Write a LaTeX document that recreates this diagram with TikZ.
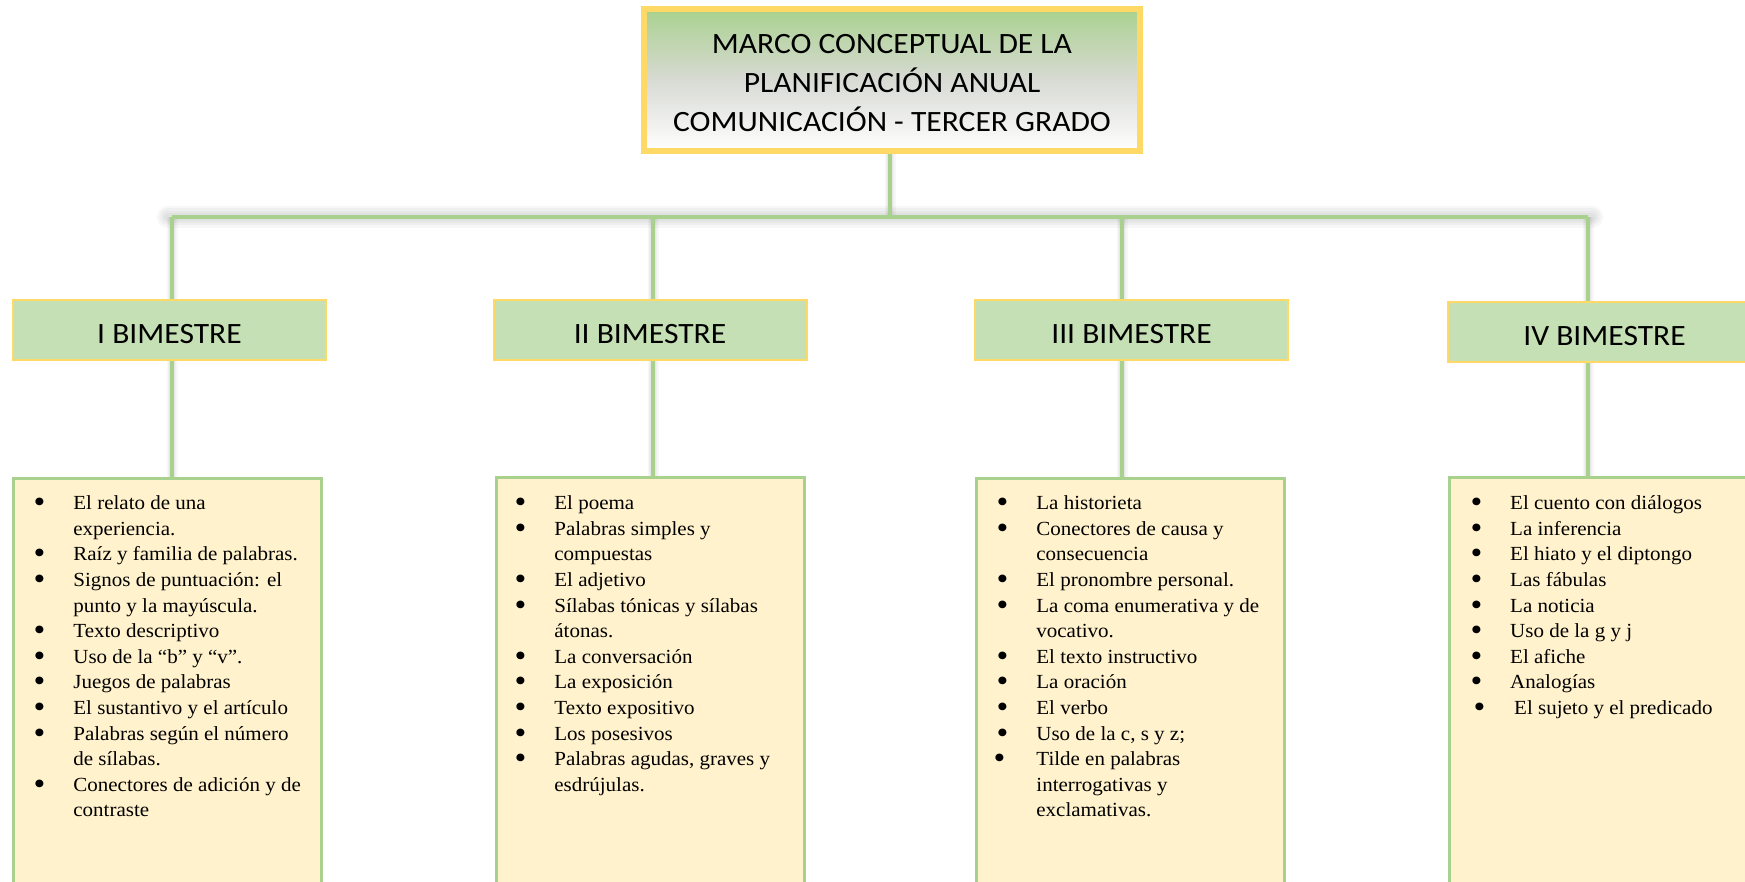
\documentclass[tikz,border=0pt]{standalone}
\usepackage{fontspec}
\newfontfamily\hdrfont{Carlito}[FakeStretch=1.07]
\newfontfamily\itemfont{Liberation Serif}[FakeStretch=1.05, Ligatures=NoCommon]
\usepackage{tikz}
\usetikzlibrary{positioning}
\usetikzlibrary{matrix}
\usepackage{xcolor}
\definecolor{hdrgreen}{RGB}{169,209,142}
\definecolor{boxgreen}{RGB}{197,224,180}
\definecolor{gold}{RGB}{255,217,102}
\definecolor{cream}{RGB}{255,242,204}
\definecolor{midgray}{RGB}{216,218,212}
\newcommand{\itembul}{\raisebox{-3pt}{\scalebox{1.6}{\textbullet}}}

\begin{document}
\begin{tikzpicture}[x=1pt, y=-1pt,
	title/.style={rectangle, draw=gold, line width=5.5pt, top color=hdrgreen, bottom color=white, middle color=midgray, minimum width=496pt, minimum height=142pt},
	titletext/.style={align=center, inner sep=0pt, font=\hdrfont\fontsize{29.5}{38.7}\selectfont},
	bim/.style={rectangle, draw=gold, fill=boxgreen, line width=2pt, minimum width=313pt, minimum height=60pt, inner sep=0pt, text height=26pt, text depth=0pt, font=\hdrfont\fontsize{29.5}{36}\selectfont},
	topic/.style={rectangle, draw=hdrgreen, fill=cream, line width=3pt, minimum width=308pt, minimum height=420pt, anchor=north west},
	items/.style={matrix of nodes, anchor=north west, inner sep=0pt, row sep=0.6pt, column sep=12pt, nodes={inner sep=0pt, anchor=base west, text height=17.5pt, text depth=7.5pt, font=\itemfont\fontsize{20}{25.6}\selectfont}, column 1/.style={nodes={text width=27.7pt}}},
	link/.style={draw=hdrgreen, line width=3.5pt},
	halo/.style={draw=black, opacity=0.03, line cap=round}]
	\useasboundingbox (0,0) rectangle (1745,882);
	\clip (0,0) rectangle (1745,882);

	\node[title] (title) at (892,80) {};
	\node[titletext] (titletext) at (892,83) {MARCO CONCEPTUAL DE LA\\PLANIFICACIÓN ANUAL\\COMUNICACIÓN - TERCER GRADO};

	\node[bim] (b1) at (169.5,330.5) {I BIMESTRE};
	\node[bim] (b2) at (650,330.5) {II BIMESTRE};
	\node[bim] (b3) at (1131.5,330.5) {III BIMESTRE};
	\node[bim] (b4) at (1604.5,332.5) {IV BIMESTRE};

	\node[topic] (c1) at (12,477) {};
	\node[topic] (c2) at (495,476) {};
	\node[topic] (c3) at (975,477) {};
	\node[topic] (c4) at (1448,476) {};

	\coordinate (j0) at (890,217);
	\coordinate (j1) at (172,217);
	\coordinate (j2) at (653,217);
	\coordinate (j3) at (1122,217);
	\coordinate (j4) at (1588,217);

	\foreach \w in {22,17,12,8} {
		\draw[halo, line width=\w pt] ([xshift=-4pt]j1) -- ([xshift=4pt]j4);
		\draw[halo, line width=0.5*\w pt, line cap=butt] (title.south -| j0) -- (j0);
		\foreach \i in {1,...,4} {
			\draw[halo, line width=0.5*\w pt, line cap=butt] (j\i) -- (j\i |- b\i.north);
			\draw[halo, line width=0.5*\w pt, line cap=butt] (j\i |- b\i.south) -- (j\i |- c\i.north);
		}
	}
	\draw[link] (title.south -| j0) -- (j0);
	\draw[link] (j1) -- (j4);
	\foreach \i in {1,...,4} {
		\draw[link] (j\i) -- (j\i |- b\i.north);
		\draw[link] (j\i |- b\i.south) -- (j\i |- c\i.north);
	}

	\matrix[items] (l1) at (33.3,492) {
		\itembul & El relato de una \\
		 & experiencia. \\
		\itembul & Raíz y familia de palabras. \\
		\itembul & Signos de puntuación: el \\
		 & punto y la mayúscula. \\
		\itembul & Texto descriptivo \\
		\itembul & Uso de la “b” y “v”. \\
		\itembul & Juegos de palabras \\
		\itembul & El sustantivo y el artículo \\
		\itembul & Palabras según el número \\
		 & de sílabas. \\
		\itembul & Conectores de adición y de \\
		 & contraste \\
	};
	\matrix[items] (l2) at (514.3,492) {
		\itembul & El poema \\
		\itembul & Palabras simples y \\
		 & compuestas \\
		\itembul & El adjetivo \\
		\itembul & Sílabas tónicas y sílabas \\
		 & átonas. \\
		\itembul & La conversación \\
		\itembul & La exposición \\
		\itembul & Texto expositivo \\
		\itembul & Los posesivos \\
		\itembul & Palabras agudas, graves y \\
		 & esdrújulas. \\
	};
	\matrix[items] (l3) at (996.3,492) {
		\itembul & La historieta \\
		\itembul & Conectores de causa y \\
		 & consecuencia \\
		\itembul & El pronombre personal. \\
		\itembul & La coma enumerativa y de \\
		 & vocativo. \\
		\itembul & El texto instructivo \\
		\itembul & La oración \\
		\itembul & El verbo \\
		\itembul & Uso de la c, s y z; \\
		\hspace*{-3pt}\itembul & Tilde en palabras \\
		 & interrogativas y \\
		 & exclamativas. \\
	};
	\matrix[items] (l4) at (1470.3,492) {
		\itembul & El cuento con diálogos \\
		\itembul & La inferencia \\
		\itembul & El hiato y el diptongo \\
		\itembul & Las fábulas \\
		\itembul & La noticia \\
		\itembul & Uso de la g y j \\
		\itembul & El afiche \\
		\itembul & Analogías \\
		\hspace*{3pt}\itembul & \hspace*{4pt}El sujeto y el predicado \\
	};
\end{tikzpicture}
\end{document}
